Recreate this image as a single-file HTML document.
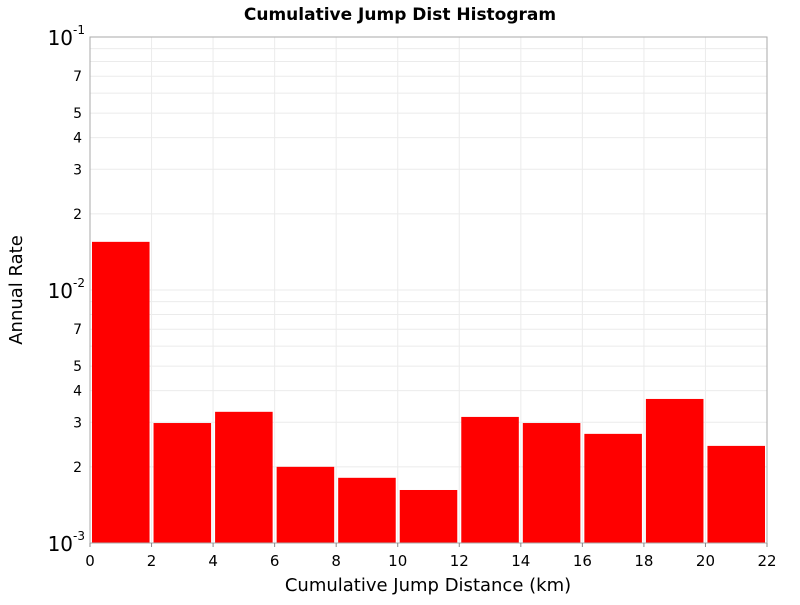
<!DOCTYPE html>
<html><head><meta charset="utf-8"><style>
body{margin:0;background:#fff;font-family:"Liberation Sans","DejaVu Sans",sans-serif;}
</style></head><body>
<svg id="chart" width="800" height="600" xmlns="http://www.w3.org/2000/svg" font-family="DejaVu Sans, Liberation Sans, sans-serif">
<text x="400" y="20" text-anchor="middle" font-size="17" font-weight="bold">Cumulative Jump Dist Histogram</text>
<g id="grid"></g><g id="bars"></g><g id="axes"></g>
<text x="428" y="591" text-anchor="middle" font-size="18">Cumulative Jump Distance (km)</text>
<text transform="translate(22,290) rotate(-90)" text-anchor="middle" font-size="18">Annual Rate</text>
</svg>
<script>
const binStarts=[0,2,4,6,8,10,12,14,16,18,20];
const binWidth=2;
const rates=[0.0155,0.00298,0.0033,0.0020,0.00181,0.00162,0.00315,0.00298,0.0027,0.00371,0.00242];
const xTicks=[0,2,4,6,8,10,12,14,16,18,20,22];
const yMinorLabels=[2,3,4,5,7];
const L=90,R=767,T=37,B=543,xMin=0,xMax=22,yMinExp=-3,yMaxExp=-1;
const NS="http://www.w3.org/2000/svg";
const xs=v=>L+(v-xMin)/(xMax-xMin)*(R-L);
const ys=v=>B-(Math.log10(v)-yMinExp)/(yMaxExp-yMinExp)*(B-T);
function mk(tag,attrs,parent,text){const e=document.createElementNS(NS,tag);for(const k in attrs)e.setAttribute(k,attrs[k]);if(text!==undefined)e.textContent=text;document.getElementById(parent).appendChild(e);return e;}
// grid
for(const t of xTicks){const g=mk('line',{x1:xs(t),x2:xs(t),y1:T,y2:B,stroke:'#ebebeb'},'grid');}
for(let e=yMinExp;e<yMaxExp;e++){for(let m=1;m<=9;m++){const v=m*Math.pow(10,e);const g=mk('line',{x1:L,x2:R,y1:ys(v),y2:ys(v),stroke:'#ebebeb'},'grid');}}
// bars
binStarts.forEach((s,i)=>{const x0=xs(s)+2,x1=xs(s+binWidth)-2,y=ys(rates[i]);const b=mk('rect',{x:x0,y:y,width:x1-x0,height:B-y,fill:'#ff0000'},'bars');});
// frame
const f=mk('rect',{x:L,y:T,width:R-L,height:B-T,fill:'none',stroke:'#aaa'},'axes');
for(const t of xTicks){mk('line',{x1:xs(t),x2:xs(t),y1:B,y2:B+4,stroke:'#888'},'axes');const l=mk('text',{x:xs(t),y:B+23,'text-anchor':'middle','font-size':'15'},'axes',String(t));}
for(let e=yMinExp;e<=yMaxExp;e++){const y=ys(Math.pow(10,e));const l=mk('text',{x:L-5,y:y+8,'text-anchor':'end','font-size':'20'},'axes');l.innerHTML='10<tspan font-size="12" dy="-11">'+e+'</tspan>';
 if(e<yMaxExp){for(const m of yMinorLabels){const yy=ys(m*Math.pow(10,e));const t=mk('text',{x:L-8,y:yy+5,'text-anchor':'end','font-size':'14'},'axes',String(m));}}}
</script>
</body></html>
